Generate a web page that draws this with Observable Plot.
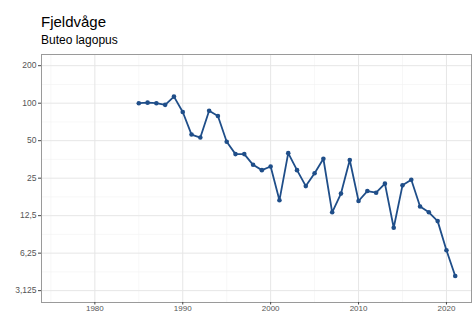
<!DOCTYPE html>
<html>
<head>
<meta charset="utf-8">
<script src="https://cdn.jsdelivr.net/npm/d3@7"></script>
<script src="https://cdn.jsdelivr.net/npm/@observablehq/plot@0.6"></script>
<style>
  html, body { margin: 0; padding: 0; background: #fff; }
  body { width: 473px; height: 311px; overflow: hidden; font-family: "Liberation Sans", Arial, sans-serif; }
  #header { position: relative; height: 53px; }
  #title { position: absolute; left: 41px; top: 14px; font-size: 15px; line-height: 15px; color: #000; }
  #subtitle { position: absolute; left: 41px; top: 34px; font-size: 12px; line-height: 12px; color: #000; }
</style>
</head>
<body>
<div id="header">
  <div id="title">Fjeldvåge</div>
  <div id="subtitle">Buteo lagopus</div>
</div>
<div id="chart"></div>
<script>
const years = [1985,1986,1987,1988,1989,1990,1991,1992,1993,1994,1995,1996,1997,1998,1999,2000,2001,2002,2003,2004,2005,2006,2007,2008,2009,2010,2011,2012,2013,2014,2015,2016,2017,2018,2019,2020,2021];
const index = [100,101,100,97,113,85,56,53,87,79,49,39,39,32,29,31,16.6,39.7,29,21.6,27.4,35.8,13.3,18.8,35,16.4,19.7,19.1,22.6,10.0,21.9,24.3,14.8,13.3,11.3,6.6,4.1];
const yTicks = [3.125, 6.25, 12.5, 25, 50, 100, 200];
const yMinor = [4.42, 8.84, 17.68, 35.36, 70.71, 141.42];
const xTicks = [1980, 1990, 2000, 2010, 2020];
const xMinor = [1975, 1985, 1995, 2005, 2015];

const data = years.map((y, i) => ({year: y, value: index[i]}));
const fmt = d => String(d).replace(".", ",");
const col = "#1f4e89";

const chart = Plot.plot({
  width: 473,
  height: 258,
  marginTop: 1,
  marginLeft: 41,
  marginRight: 2,
  marginBottom: 9,
  style: {fontFamily: "Liberation Sans, Arial, sans-serif", overflow: "visible", background: "#fff"},
  x: {domain: [1973.93, 2022.85]},
  y: {type: "log", base: 2, domain: [2.51, 246]},
  marks: [
    Plot.gridY(yMinor, {stroke: "#f2f2f2", strokeOpacity: 1, strokeWidth: 0.6}),
    Plot.gridX(xMinor, {stroke: "#f2f2f2", strokeOpacity: 1, strokeWidth: 0.6}),
    Plot.gridY(yTicks, {stroke: "#e6e6e6", strokeOpacity: 1, strokeWidth: 1}),
    Plot.gridX(xTicks, {stroke: "#e6e6e6", strokeOpacity: 1, strokeWidth: 1}),
    Plot.frame({stroke: "#9a9a9a", strokeWidth: 1}),
    Plot.axisY(yTicks, {tickFormat: fmt, tickSize: 3, tickPadding: 2, fontSize: 8.5, color: "#555", stroke: "#444", label: null}),
    Plot.axisX(xTicks, {tickFormat: d => String(d), tickSize: 2.5, tickPadding: 0.5, fontSize: 8, color: "#555", stroke: "#444", label: null}),
    Plot.line(data, {x: "year", y: "value", stroke: col, strokeWidth: 1.8}),
    Plot.dot(data, {x: "year", y: "value", fill: col, r: 2.3})
  ]
});
document.getElementById("chart").appendChild(chart);
</script>
</body>
</html>
